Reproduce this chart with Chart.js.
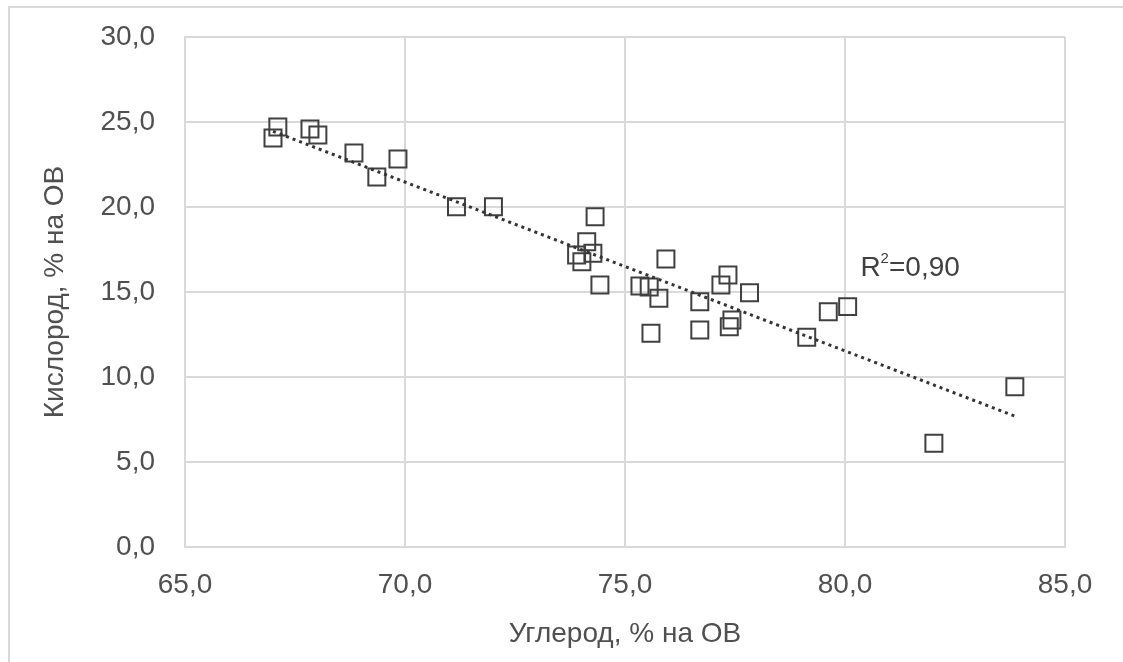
<!DOCTYPE html>
<html>
<head>
<meta charset="utf-8">
<script src="https://cdn.jsdelivr.net/npm/chart.js@4/dist/chart.umd.min.js"></script>
<style>
html,body{margin:0;padding:0;background:#fff;}
#wrap{position:relative;width:1123px;height:662px;overflow:hidden;}
#frame{position:absolute;left:8px;top:6px;width:1200px;height:700px;border-left:2px solid #d9d9d9;border-top:2px solid #d9d9d9;}
canvas{position:absolute;left:0;top:0;}
</style>
</head>
<body>
<div id="wrap">
<div id="frame"></div>
<canvas id="c" width="1123" height="662"></canvas>
</div>
<script>
// углерод / кислород, % на ОВ
const carbon=[67.00,67.11,67.84,68.02,68.84,69.36,69.84,71.17,72.01,74.32,74.13,73.90,74.02,74.27,74.43,75.93,75.34,75.55,75.77,75.59,76.70,76.70,77.18,77.34,77.43,77.37,77.83,79.13,79.62,80.06,82.02,83.86];
const oxygen=[24.06,24.71,24.59,24.24,23.18,21.76,22.82,20.02,20.02,19.43,17.96,17.18,16.78,17.28,15.41,16.94,15.35,15.30,14.63,12.57,14.43,12.76,15.41,16.00,13.35,12.96,14.96,12.34,13.84,14.14,6.10,9.43];
const trendX=[67.0,83.86];
const trendY=[24.45,7.7];
const xTicks=[65,70,75,80,85];
const yTicks=[0,5,10,15,20,25,30];
const r2Text=['R','2','=0,90'];
const r2Pos={x:80.35,y:16.4};

const FONT='"Liberation Sans", Arial, sans-serif';
const TXT='#505050';
const fmt=v=>v.toFixed(1).replace('.',',');

const r2Label={
  id:'r2Label',
  afterDatasetsDraw(chart){
    const c=chart.ctx,xs=chart.scales.x,ys=chart.scales.y;
    let x=xs.getPixelForValue(r2Pos.x),y=ys.getPixelForValue(r2Pos.y);
    c.save();
    c.fillStyle='#404040';c.textBaseline='middle';c.textAlign='left';
    c.font='28px '+FONT;
    c.fillText(r2Text[0],x,y);x+=c.measureText(r2Text[0]).width;
    c.font='15px '+FONT;
    c.fillText(r2Text[1],x,y-9);x+=c.measureText(r2Text[1]).width;
    c.font='28px '+FONT;
    c.fillText(r2Text[2],x,y);
    c.restore();
  }
};

new Chart(document.getElementById('c'),{
  type:'scatter',
  data:{datasets:[
    {data:carbon.map((v,i)=>({x:v,y:oxygen[i]})),pointStyle:'rect',pointRadius:12,pointHoverRadius:12,
     borderColor:'#404040',borderWidth:2,backgroundColor:'rgba(0,0,0,0)',order:2},
    {type:'line',data:trendX.map((v,i)=>({x:v,y:trendY[i]})),borderColor:'#333',borderWidth:3,borderDash:[3,4],
     pointRadius:0,fill:false,tension:0,order:1}
  ]},
  options:{
    responsive:false,animation:false,
    layout:{padding:{left:0,right:58,top:37,bottom:0}},
    plugins:{legend:{display:false},tooltip:{enabled:false}},
    scales:{
      x:{type:'linear',min:65,max:85,
        afterBuildTicks:s=>{s.ticks=xTicks.map(v=>({value:v}));},
        afterFit:s=>{s.height=115;s.paddingLeft=0;s.paddingRight=0;},
        ticks:{font:{family:FONT,size:28},color:TXT,padding:21,maxRotation:0,callback:v=>fmt(v)},
        grid:{color:'#d9d9d9',lineWidth:2,drawTicks:false},
        border:{color:'#d9d9d9',width:2},
        title:{display:true,text:'Углерод, % на ОВ',font:{family:FONT,size:28},color:TXT,padding:{top:0,bottom:11}}
      },
      y:{type:'linear',min:0,max:30,
        afterBuildTicks:s=>{s.ticks=yTicks.map(v=>({value:v}));},
        afterFit:s=>{s.width=185;s.paddingTop=0;s.paddingBottom=0;},
        ticks:{font:{family:FONT,size:28},color:TXT,padding:30,callback:v=>fmt(v)},
        grid:{color:'#d9d9d9',lineWidth:2,drawTicks:false},
        border:{color:'#d9d9d9',width:2},
        title:{display:true,text:'Кислород, % на ОВ',font:{family:FONT,size:28},color:TXT,padding:{top:38,bottom:0}}
      }
    }
  },
  plugins:[r2Label]
});
</script>
</body>
</html>
